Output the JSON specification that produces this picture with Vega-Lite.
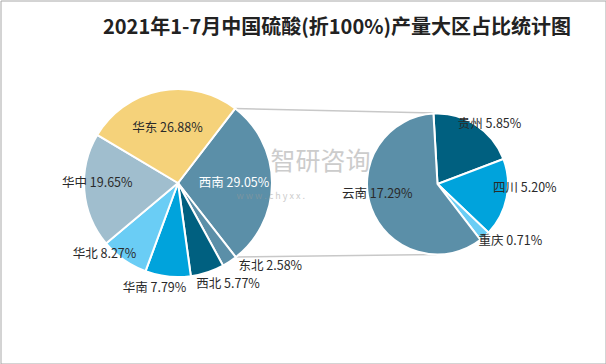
{
  "$schema": "https://vega.github.io/schema/vega-lite/v6.json",
  "width": 605,
  "height": 363,
  "padding": {"left": 0.5, "top": 0.5, "right": 0.5, "bottom": 0.5},
  "autosize": "none",
  "background": "white",
  "config": {"view": {"stroke": "#a8a8a8", "strokeWidth": 1}, "text": {"font": "Noto Sans CJK SC"}},
  "datasets": {
    "left": [
      {"name": "西南", "value": 29.05, "order": 1, "label": "西南 29.05%"},
      {"name": "东北", "value": 2.58, "order": 2, "label": "东北 2.58%"},
      {"name": "西北", "value": 5.77, "order": 3, "label": "西北 5.77%"},
      {"name": "华南", "value": 7.79, "order": 4, "label": "华南 7.79%"},
      {"name": "华北", "value": 8.27, "order": 5, "label": "华北 8.27%"},
      {"name": "华中", "value": 19.65, "order": 6, "label": "华中 19.65%"},
      {"name": "华东", "value": 26.88, "order": 7, "label": "华东 26.88%"}
    ],
    "right": [
      {"name": "贵州", "value": 5.85, "order": 1, "label": "贵州 5.85%"},
      {"name": "四川", "value": 5.20, "order": 2, "label": "四川 5.20%"},
      {"name": "重庆", "value": 0.71, "order": 3, "label": "重庆 0.71%"},
      {"name": "云南", "value": 17.29, "order": 4, "label": "云南 17.29%"}
    ],
    "one": [{}]
  },
  "resolve": {"scale": {"theta": "independent"}},
  "layer": [
    {
      "data": {"name": "one"},
      "mark": {"type": "rule", "color": "#c8c8c8", "strokeWidth": 1.5},
      "encoding": {
        "x": {"datum": 234, "type": "quantitative", "scale": {"domain": [0, 605]}, "axis": null},
        "y": {"datum": 108, "type": "quantitative", "scale": {"domain": [0, 363], "reverse": true}, "axis": null},
        "x2": {"datum": 434},
        "y2": {"datum": 112.5}
      }
    },
    {
      "data": {"name": "one"},
      "mark": {"type": "rule", "color": "#c8c8c8", "strokeWidth": 1.5},
      "encoding": {
        "x": {"datum": 234, "type": "quantitative", "scale": {"domain": [0, 605]}, "axis": null},
        "y": {"datum": 256.5, "type": "quantitative", "scale": {"domain": [0, 363], "reverse": true}, "axis": null},
        "x2": {"datum": 436},
        "y2": {"datum": 254}
      }
    },
    {
      "data": {"name": "left"},
      "encoding": {
        "x": {"datum": 177.5, "type": "quantitative", "scale": {"domain": [0, 605]}, "axis": null},
        "y": {"datum": 182.5, "type": "quantitative", "scale": {"domain": [0, 363], "reverse": true}, "axis": null},
        "theta": {"field": "value", "type": "quantitative", "stack": true, "scale": {"range": [0.6545, 6.9377]}},
        "order": {"field": "order", "type": "quantitative"},
        "detail": {"field": "name", "type": "nominal"}
      },
      "layer": [
        {
          "mark": {"type": "arc", "radius": 94, "stroke": "white", "strokeWidth": 2},
          "encoding": {
            "color": {"field": "name", "type": "nominal", "legend": null,
              "scale": {"domain": ["西南", "东北", "西北", "华南", "华北", "华中", "华东", "贵州", "四川", "重庆", "云南"],
                        "range": ["#5b8fa8", "#5b8fa8", "#006080", "#00a3dc", "#6acdf5", "#a0bece", "#f5d27a", "#006080", "#00a3dc", "#6acdf5", "#5b8fa8"]}}
          }
        },
        {
          "mark": {"type": "text", "radius": 56, "fontSize": 12.5, "baseline": "middle", "align": "center"},
          "encoding": {
            "text": {"field": "label"},
            "color": {"condition": {"test": "datum.name === '西南'", "value": "white"}, "value": "#2a2a2a"},
            "opacity": {"condition": {"test": "datum.name === '西南' || datum.name === '华东'", "value": 1}, "value": 0}
          }
        },
        {
          "mark": {"type": "text", "radius": 81, "dy": -7, "fontSize": 12.5, "baseline": "middle", "align": "center", "color": "#2a2a2a"},
          "encoding": {
            "text": {"field": "label"},
            "opacity": {"condition": {"test": "datum.name === '华中'", "value": 1}, "value": 0}
          }
        },
        {
          "mark": {"type": "text", "radius": 100, "dx": -16, "dy": -11, "fontSize": 12.5, "baseline": "middle", "align": "center", "color": "#2a2a2a"},
          "encoding": {
            "text": {"field": "label"},
            "opacity": {"condition": {"test": "datum.name === '华北'", "value": 1}, "value": 0}
          }
        },
        {
          "mark": {"type": "text", "radius": 107, "dx": -12, "dy": -1, "fontSize": 12.5, "baseline": "middle", "align": "center", "color": "#2a2a2a"},
          "encoding": {
            "text": {"field": "label"},
            "opacity": {"condition": {"test": "datum.name === '华南'", "value": 1}, "value": 0}
          }
        },
        {
          "mark": {"type": "text", "radius": 112, "dx": 15, "dy": -5, "fontSize": 12.5, "baseline": "middle", "align": "center", "color": "#2a2a2a"},
          "encoding": {
            "text": {"field": "label"},
            "opacity": {"condition": {"test": "datum.name === '西北'", "value": 1}, "value": 0}
          }
        },
        {
          "mark": {"type": "text", "radius": 119, "dx": 27, "dy": -17, "fontSize": 12.5, "baseline": "middle", "align": "center", "color": "#2a2a2a"},
          "encoding": {
            "text": {"field": "label"},
            "opacity": {"condition": {"test": "datum.name === '东北'", "value": 1}, "value": 0}
          }
        }
      ]
    },
    {
      "data": {"name": "right"},
      "encoding": {
        "x": {"datum": 437, "type": "quantitative", "scale": {"domain": [0, 605]}, "axis": null},
        "y": {"datum": 183.5, "type": "quantitative", "scale": {"domain": [0, 363], "reverse": true}, "axis": null},
        "theta": {"field": "value", "type": "quantitative", "stack": true, "scale": {"range": [-0.0576, 6.2256]}},
        "order": {"field": "order", "type": "quantitative"},
        "detail": {"field": "name", "type": "nominal"}
      },
      "layer": [
        {
          "mark": {"type": "arc", "radius": 70.5, "stroke": "white", "strokeWidth": 2},
          "encoding": {
            "color": {"field": "name", "type": "nominal", "legend": null,
              "scale": {"domain": ["西南", "东北", "西北", "华南", "华北", "华中", "华东", "贵州", "四川", "重庆", "云南"],
                        "range": ["#5b8fa8", "#5b8fa8", "#006080", "#00a3dc", "#6acdf5", "#a0bece", "#f5d27a", "#006080", "#00a3dc", "#6acdf5", "#5b8fa8"]}}
          }
        },
        {
          "mark": {"type": "text", "radius": 79, "dx": 9, "dy": 6, "fontSize": 12.5, "baseline": "middle", "align": "center", "color": "#2a2a2a"},
          "encoding": {
            "text": {"field": "label"},
            "opacity": {"condition": {"test": "datum.name === '贵州'", "value": 1}, "value": 0}
          }
        },
        {
          "mark": {"type": "text", "radius": 86, "dx": 3, "dy": -13, "fontSize": 12.5, "baseline": "middle", "align": "center", "color": "#2a2a2a"},
          "encoding": {
            "text": {"field": "label"},
            "opacity": {"condition": {"test": "datum.name === '四川'", "value": 1}, "value": 0}
          }
        },
        {
          "mark": {"type": "text", "radius": 91, "dx": 12, "dy": -11, "fontSize": 12.5, "baseline": "middle", "align": "center", "color": "#2a2a2a"},
          "encoding": {
            "text": {"field": "label"},
            "opacity": {"condition": {"test": "datum.name === '重庆'", "value": 1}, "value": 0}
          }
        },
        {
          "mark": {"type": "text", "radius": 60, "dx": -4, "dy": -11, "fontSize": 12.5, "baseline": "middle", "align": "center", "color": "#2a2a2a"},
          "encoding": {
            "text": {"field": "label"},
            "opacity": {"condition": {"test": "datum.name === '云南'", "value": 1}, "value": 0}
          }
        }
      ]
    },
    {
      "data": {"name": "one"},
      "mark": {"type": "text", "fontSize": 25, "color": "#9a9a9a", "opacity": 0.5, "baseline": "middle", "align": "center"},
      "encoding": {
        "x": {"datum": 320, "type": "quantitative", "scale": {"domain": [0, 605]}, "axis": null},
        "y": {"datum": 161, "type": "quantitative", "scale": {"domain": [0, 363], "reverse": true}, "axis": null},
        "text": {"value": "智研咨询"}
      }
    },
    {
      "data": {"name": "one"},
      "mark": {"type": "text", "fontSize": 9, "color": "#9a9a9a", "opacity": 0.5, "baseline": "middle", "align": "left"},
      "encoding": {
        "x": {"datum": 236, "type": "quantitative", "scale": {"domain": [0, 605]}, "axis": null},
        "y": {"datum": 195, "type": "quantitative", "scale": {"domain": [0, 363], "reverse": true}, "axis": null},
        "text": {"value": "w w w . c h y x x ."}
      }
    },
    {
      "data": {"name": "one"},
      "mark": {"type": "text", "fontSize": 20, "fontWeight": "bold", "color": "#222222", "baseline": "middle", "align": "center"},
      "encoding": {
        "x": {"datum": 336.5, "type": "quantitative", "scale": {"domain": [0, 605]}, "axis": null},
        "y": {"datum": 27, "type": "quantitative", "scale": {"domain": [0, 363], "reverse": true}, "axis": null},
        "text": {"value": "2021年1-7月中国硫酸(折100%)产量大区占比统计图"}
      }
    }
  ]
}
